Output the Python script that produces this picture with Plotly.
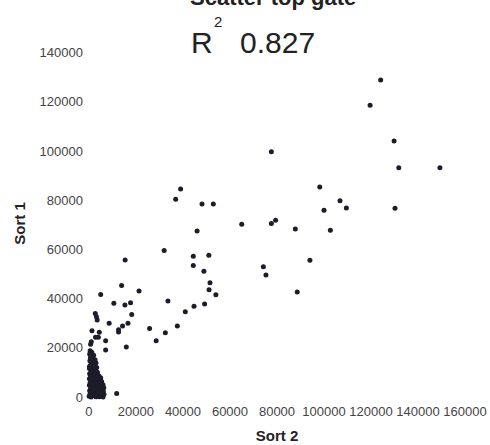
import plotly.graph_objects as go

# Scattered points (Sort 2 on x, Sort 1 on y)
sort2_spread = [124100, 119600, 129800, 131800, 149300, 77600, 98200, 106800, 100000, 109500,
                130200, 65000, 77600, 79400, 87800, 102700, 94000, 74200, 75300, 88600,
                39000, 36900, 48100, 52900, 46000, 32000, 44400, 51000, 44400, 15400,
                48900, 51500, 13900, 51100, 5000, 21300, 54000, 33600, 10600, 15300,
                17700, 49200, 44700, 41000, 18200, 2700, 3200, 3500, 8600, 16600,
                14300, 37600, 25800, 12600, 12600, 32500, 1300, 4400, 4000, 2800,
                1000, 700, 7100, 28600, 7100, 15900, 11800]
sort1_spread = [128900, 118600, 104100, 93200, 93200, 99700, 85400, 79800, 75900, 76800,
                76700, 70200, 70500, 71900, 68300, 67800, 55600, 53000, 49600, 42700,
                84600, 80400, 78500, 78500, 67500, 59600, 57200, 57600, 53500, 55700,
                51100, 46500, 45400, 43600, 41700, 43100, 41600, 39100, 38100, 37400,
                38300, 37800, 36900, 34700, 33600, 34000, 32600, 31300, 30000, 30000,
                28900, 28900, 27900, 26500, 27400, 26100, 27000, 26300, 24300, 24300,
                22500, 21500, 22900, 22900, 19100, 20400, 1500]

# Dense cluster near the origin
sort2_cluster = [500, 1200, 300, 2000, 800, 1600, 2600, 400, 1100, 3000, 1800, 600, 2400, 3300, 200,
                 1400, 2800, 900, 3600, 1900,
                 300, 1300, 2600, 4200, 700, 3400, 5000, 1800, 200, 2900, 4600, 1000, 3800, 5400,
                 2200, 500, 3200, 4800, 1500, 6000,
                 200, 2500, 4000, 5800, 1100, 3300, 6300, 700, 2000, 4700, 5500, 1500, 3700, 300,
                 6100, 2700, 4300, 900, 5200, 1800, 3100, 6400, 400, 2300, 4900, 1300, 3600, 5700,
                 100, 2800, 4400, 900, 6000, 3200, 1700,
                 700, 1500, 2300, 1000, 2900, 3900, 5100, 4500, 2100, 600, 1200, 3500, 4100, 5300,
                 1600, 2600, 200, 800, 3000, 4200]
sort1_cluster = [18800, 18200, 17500, 17000, 16400, 15800, 15200, 14800, 14300, 13900, 13400, 12900,
                 12500, 12000, 11600, 11200, 10800, 10400, 10100, 9800,
                 9500, 9200, 9000, 8700, 8400, 8200, 7900, 7700, 7400, 7200, 6900, 6700, 6400, 6200,
                 6000, 5800, 5600, 5400, 5200, 5000,
                 4800, 4700, 4500, 4300, 4200, 4000, 3800, 3600, 3500, 3300, 3100, 2900, 2800, 2600,
                 2400, 2300, 2100, 1900, 1800, 1600, 1400, 1200, 1000, 900, 800, 600, 500, 400,
                 300, 200, 100, 0, 0, 100, 3000,
                 16000, 13000, 11500, 9900, 8800, 7500, 6600, 5900, 5300, 4900, 3900, 3200, 2500, 1700,
                 1100, 700, 12300, 15500, 7100, 4400]

x_ticks = [0, 20000, 40000, 60000, 80000, 100000, 120000, 140000, 160000]
y_ticks = [0, 20000, 40000, 60000, 80000, 100000, 120000, 140000]

title_text = "Scatter top gate"
r2_value = "0.827"

FONT = "Liberation Sans, Arial, sans-serif"
DOT = "#1c1c2a"

fig = go.Figure()
fig.add_trace(go.Scatter(x=sort2_cluster, y=sort1_cluster, mode="markers",
                         marker=dict(size=5, color=DOT), hoverinfo="skip", showlegend=False))
fig.add_trace(go.Scatter(x=sort2_spread, y=sort1_spread, mode="markers",
                         marker=dict(size=5, color=DOT), showlegend=False))

fig.update_layout(
    width=490, height=445,
    margin=dict(l=84, r=20, t=45, b=43),
    paper_bgcolor="white", plot_bgcolor="white",
    font=dict(family=FONT, color="#444"),
    xaxis=dict(range=[-2100, 162100], tickvals=x_ticks, ticktext=[str(v) for v in x_ticks],
               showgrid=False, zeroline=False, showline=False, ticks="", automargin=False,
               tickfont=dict(size=13, color="#444"),
               title=dict(text="<b>Sort 2</b>", font=dict(size=15, color="#222"), standoff=12)),
    yaxis=dict(range=[-2000, 143100], tickvals=y_ticks, ticktext=[str(v) for v in y_ticks],
               showgrid=False, zeroline=False, showline=False, ticks="", automargin=False,
               tickfont=dict(size=13, color="#444"),
               title=dict(text="<b>Sort 1</b>", font=dict(size=15, color="#222"), standoff=10)),
    annotations=[
        dict(text="<b>" + title_text + "</b>", xref="paper", yref="paper", x=0.4896, y=1.134,
             showarrow=False, xanchor="center", yanchor="middle",
             font=dict(size=22, color="#222", family=FONT)),
        dict(text="R", xref="paper", yref="paper", x=0.3057, y=1.007, showarrow=False,
             xanchor="center", yanchor="middle", font=dict(size=30, color="#222", family=FONT)),
        dict(text="2", xref="paper", yref="paper", x=0.3459, y=1.0658, showarrow=False,
             xanchor="center", yanchor="middle", font=dict(size=15, color="#222", family=FONT)),
        dict(text=r2_value, xref="paper", yref="paper", x=0.5, y=1.007, showarrow=False,
             xanchor="center", yanchor="middle", font=dict(size=30, color="#222", family=FONT)),
    ],
)

fig.write_html("out.html")
